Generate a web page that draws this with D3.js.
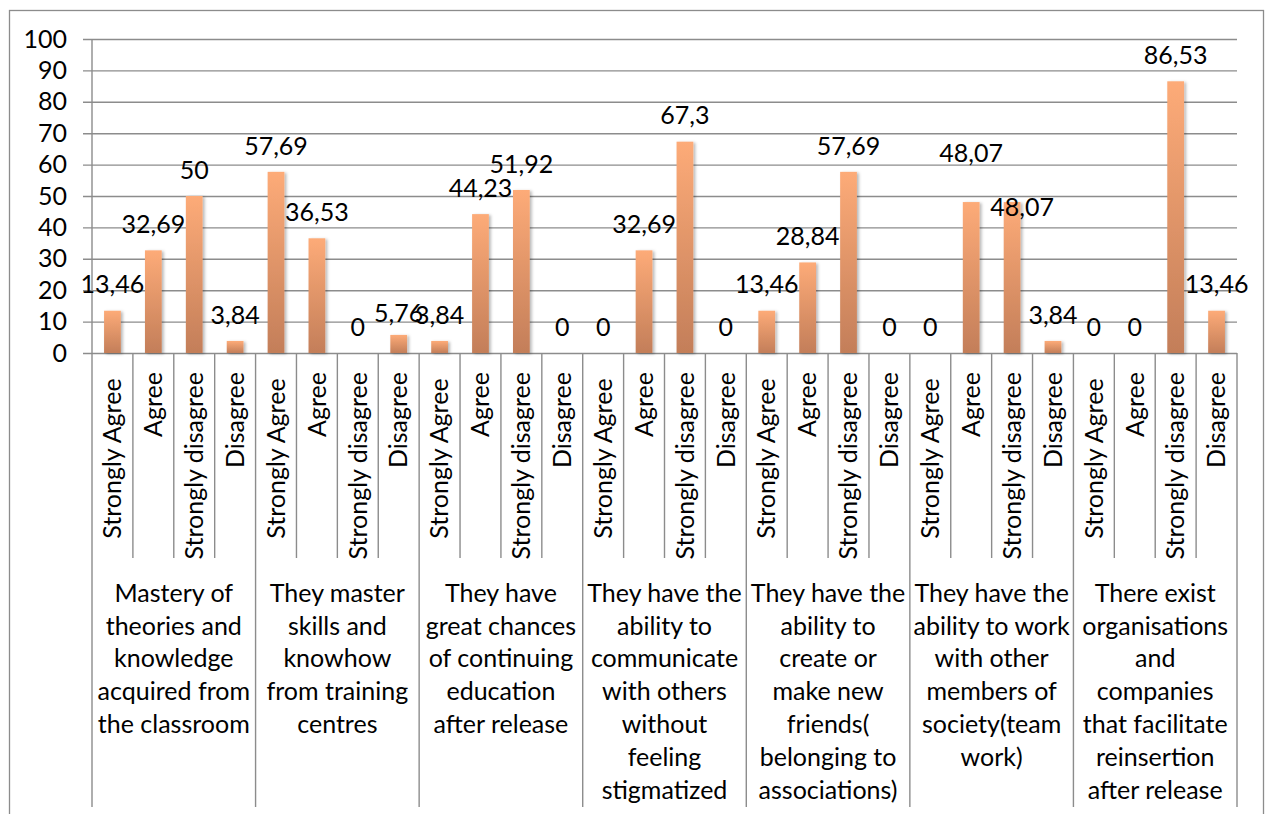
<!DOCTYPE html>
<html>
<head>
<meta charset="utf-8">
<script src="https://cdn.jsdelivr.net/npm/d3@7"></script>
<style>
  html, body { margin: 0; padding: 0; background: #fff; }
  svg { display: block; }
  text { font-family: Lato, "Open Sans", sans-serif; fill: #000; }
</style>
</head>
<body>
<svg id="chart" width="1265" height="814"></svg>
<script>
// ---- data ----
const groups = [
  "Mastery of\ntheories and\nknowledge\nacquired from\nthe classroom",
  "They master\nskills and\nknowhow\nfrom training\ncentres",
  "They have\ngreat chances\nof continuing\neducation\nafter release",
  "They have the\nability to\ncommunicate\nwith others\nwithout\nfeeling\nstigmatized",
  "They have the\nability to\ncreate or\nmake new\nfriends(\nbelonging to\nassociations)",
  "They have the\nability to work\nwith other\nmembers of\nsociety(team\nwork)",
  "There exist\norganisations\nand\ncompanies\nthat facilitate\nreinsertion\nafter release"
];
const responses = ["Strongly Agree ", "Agree", "Strongly disagree", "Disagree"];
const values = [
  [13.46, 32.69, 50, 3.84],
  [57.69, 36.53, 0, 5.76],
  [3.84, 44.23, 51.92, 0],
  [0, 32.69, 67.3, 0],
  [13.46, 28.84, 57.69, 0],
  [0, 48.07, 48.07, 3.84],
  [0, 0, 86.53, 13.46]
];
const yTicks = [0, 10, 20, 30, 40, 50, 60, 70, 80, 90, 100];
// manual label nudges (as moved in the original), keyed by flat bar index: [dx, dy]
const labelNudges = { 7: [0, 4], 21: [0, -23], 22: [10, 31] };

// ---- layout ----
const svg = d3.select("#chart");
const L = 92, R = 1237, T = 39, B = 353;
const innerTickBottom = 558, groupLineBottom = 807;
const FS = 25;

const flat = [];
values.forEach((row, gi) => row.forEach((v, ri) => flat.push({ gi, ri, v, key: gi + "-" + ri })));

const x = d3.scaleBand().domain(flat.map(d => d.key)).range([L, R]).padding(0);
const y = d3.scaleLinear().domain([0, 100]).range([B, T]);
const barW = x.bandwidth() * 0.41;

// outer border
svg.append("rect").attr("x", 9.5).attr("y", 10.5).attr("width", 1254).attr("height", 830)
  .attr("fill", "none").attr("stroke", "#8c8c8c").attr("stroke-width", 1.3);

// defs
const defs = svg.append("defs");
const grad = defs.append("linearGradient").attr("id", "barGrad")
  .attr("x1", 0).attr("y1", 0).attr("x2", 0).attr("y2", 1);
grad.append("stop").attr("offset", "0%").attr("stop-color", "#fdab78");
grad.append("stop").attr("offset", "100%").attr("stop-color", "#c37e59");
const filt = defs.append("filter").attr("id", "shadow").attr("x", "-50%").attr("y", "-10%").attr("width", "200%").attr("height", "130%");
filt.append("feDropShadow").attr("dx", 2).attr("dy", 1).attr("stdDeviation", 1.6)
  .attr("flood-color", "#000").attr("flood-opacity", 0.28);

// gridlines (extend left to form tick marks)
const yAxis = d3.axisLeft(y).tickValues(yTicks).tickSize(-(R - L)).tickPadding(16);
const ga = svg.append("g").attr("transform", `translate(${L},0)`).call(yAxis);
ga.select(".domain").remove();
ga.selectAll(".tick line").attr("x1", -9).attr("x2", R - L)
  .attr("stroke", "#8c8c8c").attr("stroke-width", 1.4);
ga.selectAll(".tick text").attr("font-size", FS).attr("font-family", "Lato")
  .attr("x", -25).attr("fill", "#000");

// vertical axis line and category separators
svg.append("line").attr("x1", L).attr("x2", L).attr("y1", T).attr("y2", groupLineBottom)
  .attr("stroke", "#8c8c8c").attr("stroke-width", 1.4);
const sepKeys = flat.map((d, i) => i + 1);
svg.append("g").selectAll("line").data(sepKeys).join("line")
  .attr("x1", i => L + i * x.step()).attr("x2", i => L + i * x.step())
  .attr("y1", B)
  .attr("y2", i => (i % 4 === 0 ? groupLineBottom : innerTickBottom))
  .attr("stroke", "#8c8c8c").attr("stroke-width", 1.4);

// bars
svg.append("g").selectAll("rect").data(flat).join("rect")
  .attr("x", d => x(d.key) + (x.bandwidth() - barW) / 2)
  .attr("y", d => y(d.v))
  .attr("width", barW)
  .attr("height", d => y(0) - y(d.v))
  .attr("fill", "url(#barGrad)")
  .attr("filter", "url(#shadow)");

// value labels
const fmt = v => String(v).replace(".", ",");
svg.append("g").selectAll("text").data(flat).join("text")
  .attr("x", (d, i) => x(d.key) + x.bandwidth() / 2 + (labelNudges[i] ? labelNudges[i][0] : 0))
  .attr("y", (d, i) => y(d.v) - 26 + (labelNudges[i] ? labelNudges[i][1] : 0))
  .attr("dy", "0.35em")
  .attr("text-anchor", "middle")
  .attr("font-size", FS)
  .text(d => fmt(d.v));

// rotated response labels
svg.append("g").selectAll("text").data(flat).join("text")
  .attr("transform", d => `translate(${x(d.key) + x.bandwidth() / 2},372) rotate(-90)`)
  .attr("dy", "0.35em")
  .attr("text-anchor", "end")
  .attr("font-size", FS)
  .style("white-space", "pre")
  .text(d => responses[d.ri]);

// group labels
const groupW = x.step() * 4;
const gl = svg.append("g").selectAll("text").data(groups).join("text")
  .attr("text-anchor", "middle")
  .attr("font-size", FS)
  .attr("x", (d, i) => L + groupW * i + groupW / 2)
  .attr("y", 593);
gl.each(function(d, i) {
  const t = d3.select(this);
  d.split("\n").forEach((line, li) => {
    t.append("tspan").attr("x", L + groupW * i + groupW / 2)
      .attr("y", 593 + li * 32.8).attr("dy", "0.35em").text(line);
  });
});
</script>
</body>
</html>
